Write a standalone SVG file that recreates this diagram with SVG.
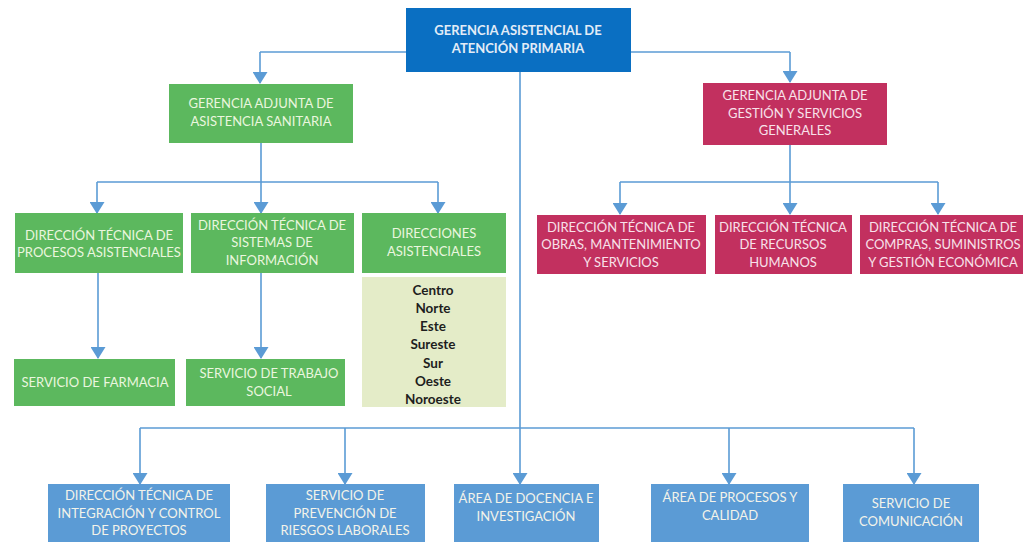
<svg xmlns="http://www.w3.org/2000/svg" width="1023" height="542" viewBox="0 0 1023 542">
<style>
text{font-family:Lato,"Open Sans","Liberation Sans",sans-serif;font-size:13px;text-anchor:middle}
.blue{fill:#0a6fc2}
.green{fill:#5cb85e}
.pink{fill:#c2305f}
.lite{fill:#e4ecc8}
.bb{fill:#5b9bd5}
.tb{fill:#e2ecf7;font-weight:bold;font-size:13px}
.tg{fill:#eaf6df}
.tp{fill:#f8e1ea}
.tl{fill:#1e1e1e;font-weight:bold;font-size:13.5px}
.tbb{fill:#f3f3ea}
.c{fill:none;stroke:#5b9bd5;stroke-width:1.6}
.a{marker-end:url(#ar)}
</style>
<defs>
<marker id="ar" markerUnits="userSpaceOnUse" markerWidth="12" markerHeight="15" viewBox="0 0 12 15" refX="11" refY="7.5" orient="auto">
<path d="M0,0 L12,7.5 L0,15 Z" fill="#5b9bd5"/>
</marker>
</defs>
<rect width="1023" height="542" fill="#ffffff"/>
<g id="connectors">
<path class="c" d="M260,52 H790"/>
<path class="c a" d="M260,52 V83"/>
<path class="c a" d="M790,52 V82"/>
<path class="c" d="M520,72 V428"/>
<path class="c" d="M261,143 V182 M97,182 H438"/>
<path class="c a" d="M97,182 V213"/>
<path class="c a" d="M261,182 V213"/>
<path class="c a" d="M438,182 V213"/>
<path class="c" d="M790,145 V182 M620,182 H938"/>
<path class="c a" d="M620,182 V214"/>
<path class="c a" d="M790,182 V214"/>
<path class="c a" d="M938,182 V214"/>
<path class="c a" d="M98,273 V358"/>
<path class="c a" d="M261,273 V358"/>
<path class="c" d="M140,428 H914"/>
<path class="c a" d="M140,428 V484"/>
<path class="c a" d="M345,428 V484"/>
<path class="c a" d="M520,428 V484"/>
<path class="c a" d="M729,428 V484"/>
<path class="c a" d="M914,428 V484"/>
</g>
<g id="gerencia">
<rect class="blue" x="406" y="8" width="225" height="64"/>
<text class="tb" x="518" y="35">GERENCIA ASISTENCIAL DE</text>
<text class="tb" x="518" y="53">ATENCIÓN PRIMARIA</text>
</g>
<g id="adj-sanitaria">
<rect class="green" x="169" y="84" width="184" height="59"/>
<text class="tg" x="261" y="108">GERENCIA ADJUNTA DE</text>
<text class="tg" x="261" y="126">ASISTENCIA SANITARIA</text>
</g>
<g id="adj-gestion">
<rect class="pink" x="703" y="83" width="184" height="62"/>
<text class="tp" x="795" y="100">GERENCIA ADJUNTA DE</text>
<text class="tp" x="795" y="118">GESTIÓN Y SERVICIOS</text>
<text class="tp" x="795" y="135">GENERALES</text>
</g>
<g id="dt-procesos">
<rect class="green" x="15" y="213" width="168" height="60"/>
<text class="tg" x="99" y="240">DIRECCIÓN TÉCNICA DE</text>
<text class="tg" x="99" y="257">PROCESOS ASISTENCIALES</text>
</g>
<g id="dt-sistemas">
<rect class="green" x="191" y="213" width="163" height="60"/>
<text class="tg" x="272" y="230">DIRECCIÓN TÉCNICA DE</text>
<text class="tg" x="272" y="247">SISTEMAS DE</text>
<text class="tg" x="272" y="265">INFORMACIÓN</text>
</g>
<g id="direcciones">
<rect class="green" x="362" y="213" width="144" height="60"/>
<text class="tg" x="434" y="238">DIRECCIONES</text>
<text class="tg" x="434" y="256">ASISTENCIALES</text>
</g>
<g id="direcciones-lista">
<rect class="lite" x="362" y="277" width="144" height="130"/>
<text class="tl" x="433" y="295">Centro</text>
<text class="tl" x="433" y="313">Norte</text>
<text class="tl" x="433" y="331">Este</text>
<text class="tl" x="433" y="349">Sureste</text>
<text class="tl" x="433" y="368">Sur</text>
<text class="tl" x="433" y="386">Oeste</text>
<text class="tl" x="433" y="404">Noroeste</text>
</g>
<g id="farmacia">
<rect class="green" x="14" y="359" width="161" height="47"/>
<text class="tg" x="95" y="387">SERVICIO DE FARMACIA</text>
</g>
<g id="trabajo-social">
<rect class="green" x="186" y="359" width="159" height="47"/>
<text class="tg" x="269" y="378">SERVICIO DE TRABAJO</text>
<text class="tg" x="269" y="396">SOCIAL</text>
</g>
<g id="dt-obras">
<rect class="pink" x="537" y="215" width="169" height="59"/>
<text class="tp" x="621" y="232">DIRECCIÓN TÉCNICA DE</text>
<text class="tp" x="621" y="249">OBRAS, MANTENIMIENTO</text>
<text class="tp" x="621" y="267">Y SERVICIOS</text>
</g>
<g id="dt-rrhh">
<rect class="pink" x="715" y="215" width="137" height="59"/>
<text class="tp" x="783" y="232">DIRECCIÓN TÉCNICA</text>
<text class="tp" x="783" y="249">DE RECURSOS</text>
<text class="tp" x="783" y="267">HUMANOS</text>
</g>
<g id="dt-compras">
<rect class="pink" x="860" y="215" width="170" height="59"/>
<text class="tp" x="943" y="232">DIRECCIÓN TÉCNICA DE</text>
<text class="tp" x="943" y="249">COMPRAS, SUMINISTROS</text>
<text class="tp" x="943" y="267">Y GESTIÓN ECONÓMICA</text>
</g>
<g id="dt-integracion">
<rect class="bb" x="48" y="484" width="182" height="62"/>
<text class="tbb" x="139" y="500">DIRECCIÓN TÉCNICA DE</text>
<text class="tbb" x="139" y="518">INTEGRACIÓN Y CONTROL</text>
<text class="tbb" x="139" y="535">DE PROYECTOS</text>
</g>
<g id="prevencion">
<rect class="bb" x="266" y="484" width="159" height="62"/>
<text class="tbb" x="345" y="500">SERVICIO DE</text>
<text class="tbb" x="345" y="518">PREVENCIÓN DE</text>
<text class="tbb" x="345" y="535">RIESGOS LABORALES</text>
</g>
<g id="docencia">
<rect class="bb" x="454" y="484" width="145" height="62"/>
<text class="tbb" x="526" y="503">ÁREA DE DOCENCIA E</text>
<text class="tbb" x="526" y="521">INVESTIGACIÓN</text>
</g>
<g id="calidad">
<rect class="bb" x="651" y="484" width="158" height="62"/>
<text class="tbb" x="730" y="502">ÁREA DE PROCESOS Y</text>
<text class="tbb" x="730" y="520">CALIDAD</text>
</g>
<g id="comunicacion">
<rect class="bb" x="843" y="484" width="136" height="62"/>
<text class="tbb" x="911" y="508">SERVICIO DE</text>
<text class="tbb" x="911" y="526">COMUNICACIÓN</text>
</g>
</svg>
